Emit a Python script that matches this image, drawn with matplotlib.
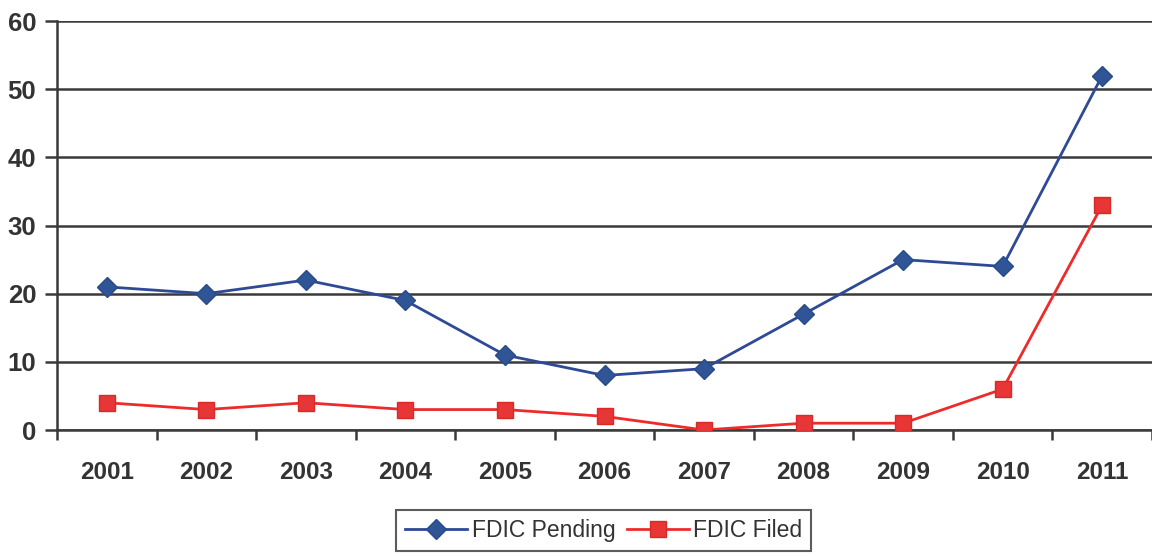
import matplotlib
matplotlib.use("Agg")
import matplotlib.pyplot as plt

years = ["2001", "2002", "2003", "2004", "2005", "2006", "2007", "2008", "2009", "2010", "2011"]
pending = [21, 20, 22, 19, 11, 8, 9, 17, 25, 24, 52]
filed = [4, 3, 4, 3, 3, 2, 0, 1, 1, 6, 33]
yticks = [0, 10, 20, 30, 40, 50, 60]

plt.rcParams['font.family'] = ['Liberation Sans', 'DejaVu Sans']

fig = plt.figure(figsize=(11.52, 5.56), dpi=100)
ax = fig.add_axes([0.0495, 0.2266, 0.9505, 0.7356])

x = list(range(len(years)))
gridc = "#3a3a3a"
for v in yticks:
    ax.axhline(v, color=gridc, lw=1.8, zorder=1)

ax.plot(x, pending, color="#2e4a96", lw=2, marker="D", markersize=10,
        markerfacecolor="#2f5597", markeredgecolor="#2a4a8a", label="FDIC Pending", zorder=3)
ax.plot(x, filed, color="#ee2b2b", lw=2, marker="s", markersize=11,
        markerfacecolor="#e83535", markeredgecolor="#d82a2a", label="FDIC Filed", zorder=3)

ax.set_xlim(-0.5, len(years) - 0.5)
ax.set_ylim(0, 60)
ax.set_yticks(yticks)
ax.set_yticklabels([str(v) for v in yticks], fontsize=18.5, fontweight="bold", color="#333333")
ax.set_xticks(x)
ax.set_xticklabels(years, fontsize=17.5, fontweight="bold", color="#333333")
ax.tick_params(axis="x", length=0, pad=22)
ax.set_xticks([i - 0.5 for i in range(len(years) + 1)], minor=True)
ax.tick_params(axis="x", which="minor", length=7, width=1.8, color=gridc, direction="out")
ax.tick_params(axis="y", length=9, width=1.8, color=gridc, pad=6)

for s in ["top", "right"]:
    ax.spines[s].set_visible(False)
ax.spines["left"].set_color(gridc)
ax.spines["left"].set_linewidth(1.8)
ax.spines["bottom"].set_color(gridc)
ax.spines["bottom"].set_linewidth(1.8)

leg = fig.legend(loc="lower center", bbox_to_anchor=(0.524, 0.004), ncol=2, fontsize=16.5,
                 frameon=True, fancybox=False, edgecolor="#333333", handlelength=2.7,
                 handletextpad=0.2, columnspacing=0.5, borderpad=0.4, borderaxespad=0.1)
leg.get_frame().set_linewidth(1.5)
for t in leg.get_texts():
    t.set_color("#333333")

fig.savefig("out.png", dpi=100, facecolor="white")
